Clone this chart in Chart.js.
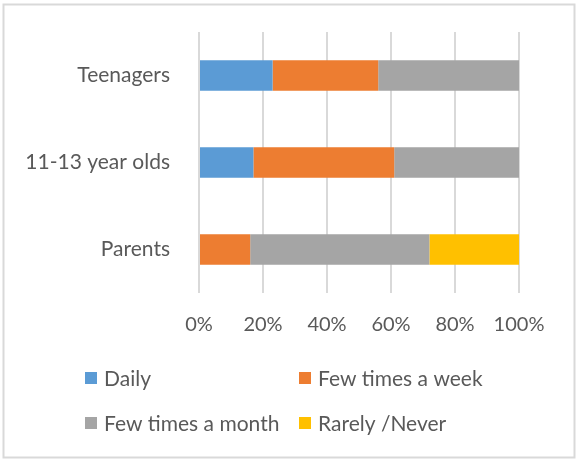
<!DOCTYPE html>
<html>
<head>
<meta charset="utf-8">
<title>Usage frequency</title>
<script src="https://cdn.jsdelivr.net/npm/chart.js@4.4.1/dist/chart.umd.min.js"></script>
<style>
  html, body { margin: 0; padding: 0; background: #ffffff; }
  #wrap { width: 576px; height: 459px; position: relative; }
</style>
</head>
<body>
<div id="wrap"><canvas id="usageChart" width="576" height="459"></canvas></div>
<script>
// chart data
const groups = ['Teenagers', '11-13 year olds', 'Parents'];
const seriesNames = ['Daily', 'Few times a week', 'Few times a month', 'Rarely /Never'];
const daily = [23, 17, 0];
const fewWeek = [33, 44, 16];
const fewMonth = [44, 39, 56];
const rarely = [0, 0, 28];
const tickValues = [0, 20, 40, 60, 80, 100];

const colors = ['#5B9BD5', '#ED7D31', '#A5A5A5', '#FFC000'];
const textColor = '#595959';
const fontFamily = 'Lato, "Liberation Sans", sans-serif';

/**
 * Frame round the whole picture
 */
const framePlugin = {
    id: 'frame',
    beforeDraw(chart) {
        const ctx = chart.ctx;
        ctx.save();
        ctx.fillStyle = '#ffffff';
        ctx.fillRect(0, 0, chart.width, chart.height);
        ctx.strokeStyle = '#d9d9d9';
        ctx.lineWidth = 2;
        ctx.strokeRect(3.5, 4.5, 571, 453);
        ctx.restore();
    }
};

/**
 * Two column legend under the axis
 */
const gridLegendPlugin = {
    id: 'gridLegend',
    afterDraw(chart) {
        const ctx = chart.ctx;
        const colX = [85, 299];
        const rowY = [378, 423];
        const box = 12;
        ctx.save();
        ctx.font = '21px ' + fontFamily;
        ctx.textBaseline = 'middle';
        ctx.textAlign = 'left';
        chart.data.datasets.forEach((ds, i) => {
            const x = colX[i % 2];
            const y = rowY[Math.floor(i / 2)];
            ctx.fillStyle = ds.backgroundColor;
            ctx.fillRect(x, y - box / 2, box, box);
            ctx.fillStyle = textColor;
            ctx.fillText(ds.label, x + box + 7, y + 1);
        });
        ctx.restore();
    }
};

const seriesValues = [daily, fewWeek, fewMonth, rarely];

const ctx = document.getElementById('usageChart').getContext('2d');
const chart = new Chart(ctx, {
    type: 'bar',
    data: {
        labels: groups,
        datasets: seriesNames.map((name, i) => ({
            label: name,
            data: seriesValues[i],
            backgroundColor: colors[i],
            borderWidth: 0,
            barPercentage: 0.35,
            categoryPercentage: 1
        }))
    },
    options: {
        indexAxis: 'y',
        responsive: false,
        animation: false,
        layout: {
            padding: { left: 0, right: 57, top: 32, bottom: 0 }
        },
        plugins: {
            legend: { display: false },
            tooltip: { enabled: false }
        },
        scales: {
            x: {
                stacked: true,
                min: 0,
                max: 100,
                afterBuildTicks(scale) {
                    scale.ticks = tickValues.map(v => ({ value: v }));
                },
                afterFit(scale) {
                    scale.height = 166;
                },
                grid: {
                    color: '#d9d9d9',
                    lineWidth: 2,
                    drawTicks: false
                },
                border: { display: false },
                ticks: {
                    padding: 20,
                    color: textColor,
                    font: { family: fontFamily, size: 20 },
                    callback: v => v + '%'
                }
            },
            y: {
                stacked: true,
                afterFit(scale) {
                    scale.width = 199;
                    // tick padding should not push the plot area down
                    scale.paddingTop = 0;
                    scale.paddingBottom = 0;
                },
                grid: { display: false, drawTicks: false },
                border: { display: false },
                ticks: {
                    padding: 29,
                    color: textColor,
                    font: { family: fontFamily, size: 21 }
                }
            }
        }
    },
    plugins: [framePlugin, gridLegendPlugin]
});
</script>
</body>
</html>
